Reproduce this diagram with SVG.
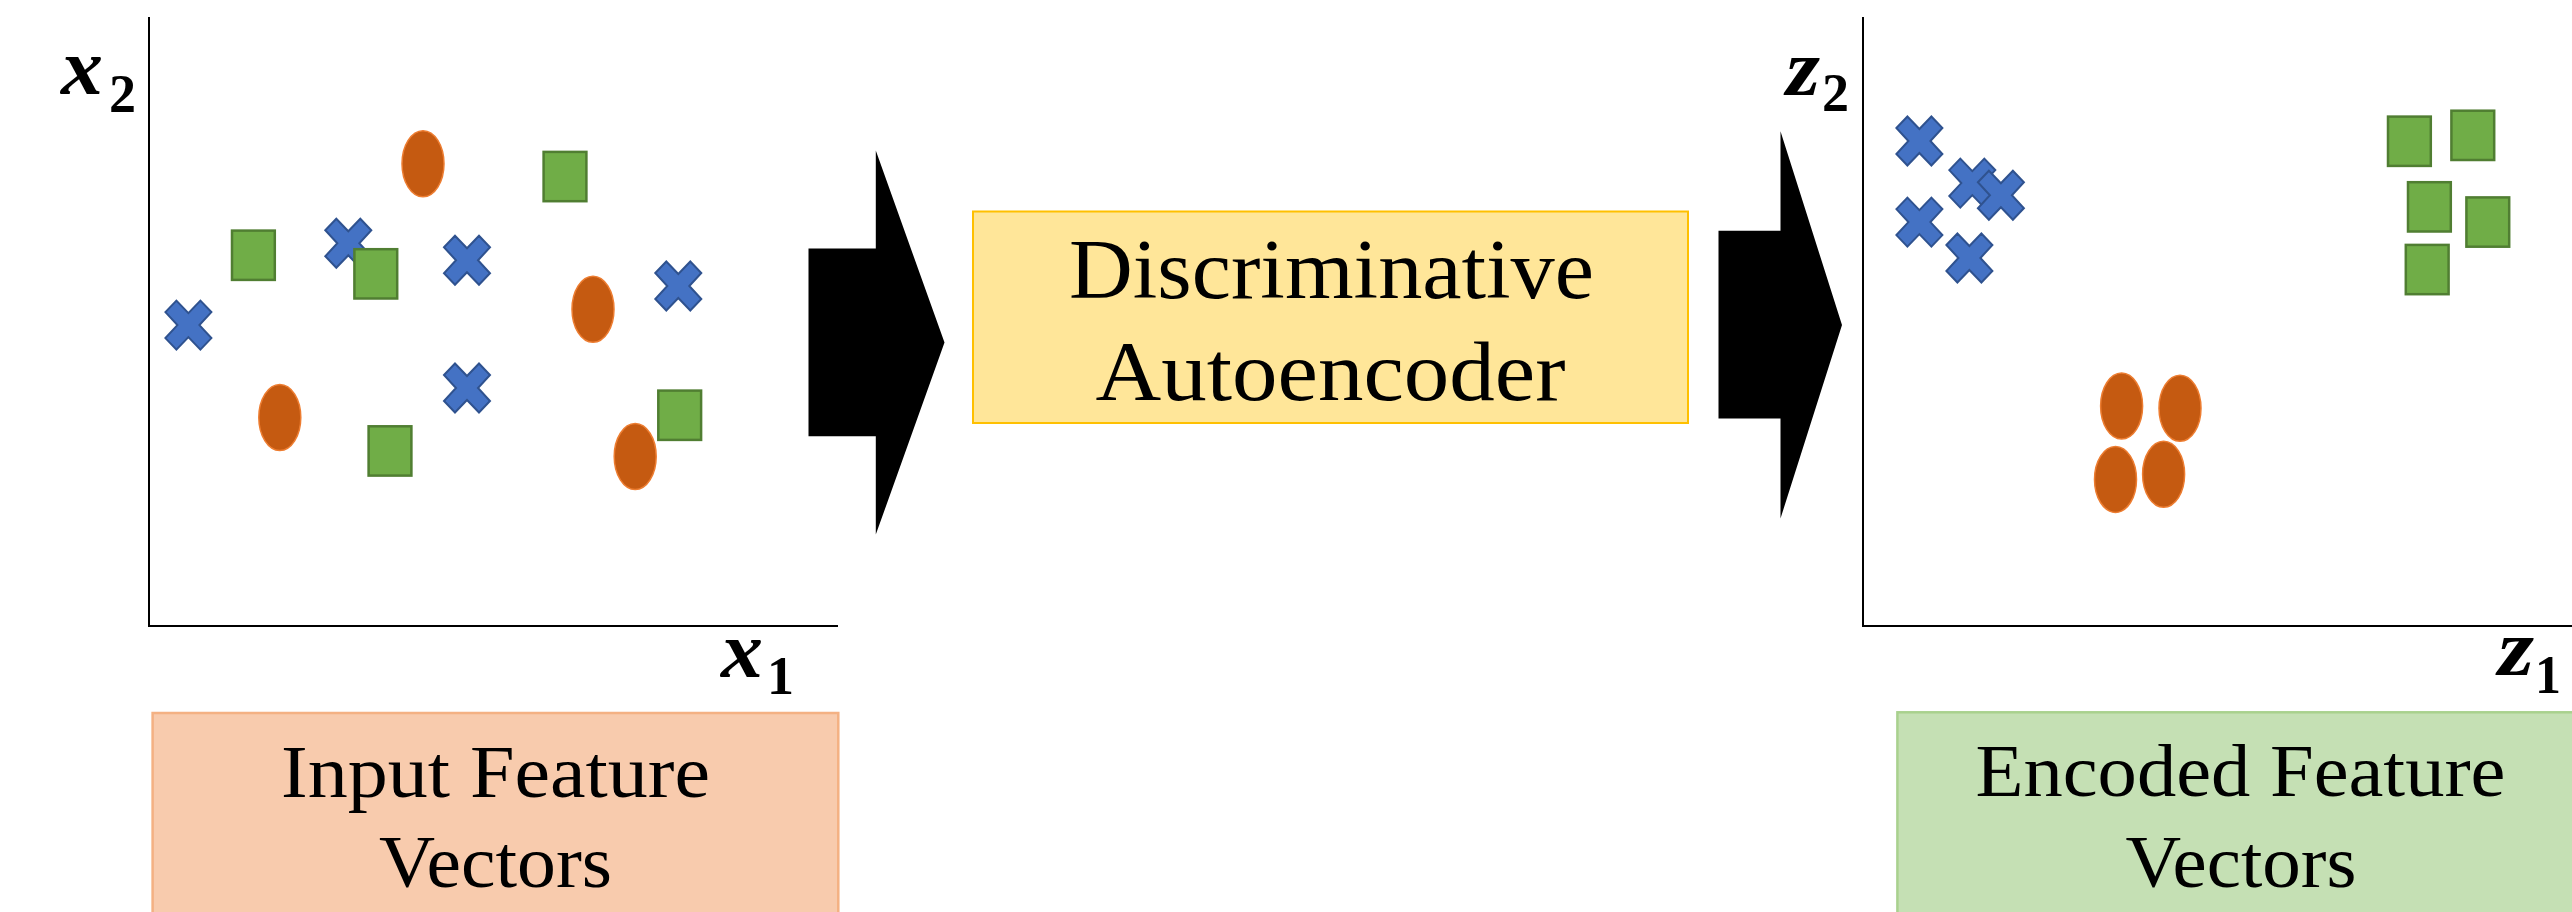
<svg xmlns="http://www.w3.org/2000/svg" xmlns:xlink="http://www.w3.org/1999/xlink" width="2572" height="912" viewBox="0 0 2572 912">
<style>
.axis{stroke:#000;stroke-width:2;fill:none}
.sq{fill:#70AD47;stroke:#507E32;stroke-width:2.5}
.el{fill:#C55A11;stroke:#ED7D31;stroke-width:1.5}
.cr{fill:#4472C4;stroke:#2F528F;stroke-width:2;stroke-linejoin:miter}
.arrow{fill:#000}
.lbl{font-family:"Liberation Serif","Times New Roman",serif;fill:#000}
.big{font-size:84px}
.mid{font-size:74px}
.math{font-family:"Liberation Serif","Times New Roman",serif;font-weight:bold;font-style:italic;font-size:80px}
.sub{font-family:"Liberation Serif","Times New Roman",serif;font-weight:bold;font-size:54px}
</style>
<defs>
<path id="cross" d="M-23,-13 L-12,-24.5 L0,-12 L12,-24.5 L23,-13 L11,0 L23,13 L12,24.5 L0,12 L-12,24.5 L-23,13 L-11,0 Z"/>
</defs>
<rect width="2572" height="912" fill="#fff"/>

<g id="input-plot">
<line class="axis" x1="149" y1="17" x2="149" y2="626"/>
<line class="axis" x1="148" y1="626" x2="838" y2="626"/>
<text class="math" x="61" y="93.5" textLength="42" lengthAdjust="spacingAndGlyphs">x</text><text class="sub" x="109" y="111.5" textLength="27" lengthAdjust="spacingAndGlyphs">2</text>
<text class="math" x="721" y="676.5" textLength="42" lengthAdjust="spacingAndGlyphs">x</text><text class="sub" x="767" y="693.5" textLength="27" lengthAdjust="spacingAndGlyphs">1</text>
<use href="#cross" class="cr" x="348.3" y="243.3"/>
<use href="#cross" class="cr" x="467" y="260.3"/>
<use href="#cross" class="cr" x="188.4" y="325.1"/>
<use href="#cross" class="cr" x="678.3" y="286"/>
<use href="#cross" class="cr" x="467" y="388"/>
<rect class="sq" x="543.6" y="151.9" width="42.8" height="49.3"/>
<rect class="sq" x="232" y="230.6" width="42.8" height="49.3"/>
<rect class="sq" x="354.4" y="249.2" width="42.8" height="49.3"/>
<rect class="sq" x="368.6" y="426.3" width="42.8" height="49.3"/>
<rect class="sq" x="658.3" y="390.6" width="42.8" height="49.3"/>
<ellipse class="el" cx="423" cy="163.7" rx="21" ry="33"/>
<ellipse class="el" cx="593" cy="309.3" rx="21" ry="33"/>
<ellipse class="el" cx="279.8" cy="417.5" rx="21" ry="33"/>
<ellipse class="el" cx="635.2" cy="456.6" rx="21" ry="33"/>
</g>

<g id="encoded-plot">
<line class="axis" x1="1863" y1="17" x2="1863" y2="626"/>
<line class="axis" x1="1862" y1="626" x2="2572" y2="626"/>
<text class="math" x="1786" y="95" textLength="34" lengthAdjust="spacingAndGlyphs">z</text><text class="sub" x="1822" y="110.5" textLength="27" lengthAdjust="spacingAndGlyphs">2</text>
<text class="math" x="2498" y="675" textLength="36" lengthAdjust="spacingAndGlyphs">z</text><text class="sub" x="2535" y="692.5" textLength="26" lengthAdjust="spacingAndGlyphs">1</text>
<use href="#cross" class="cr" x="1919.4" y="141"/>
<use href="#cross" class="cr" x="1972.3" y="183.1"/>
<use href="#cross" class="cr" x="2000.9" y="195.3"/>
<use href="#cross" class="cr" x="1919.4" y="222.1"/>
<use href="#cross" class="cr" x="1969.4" y="258"/>
<rect class="sq" x="2388" y="116.6" width="42.8" height="49.3"/>
<rect class="sq" x="2451.4" y="110.7" width="42.8" height="49.3"/>
<rect class="sq" x="2408" y="182.2" width="42.8" height="49.3"/>
<rect class="sq" x="2466.4" y="197.4" width="42.8" height="49.3"/>
<rect class="sq" x="2405.8" y="244.9" width="42.8" height="49.3"/>
<ellipse class="el" cx="2121.6" cy="406.1" rx="21" ry="33"/>
<ellipse class="el" cx="2180" cy="408.2" rx="21" ry="33"/>
<ellipse class="el" cx="2115.5" cy="479.4" rx="21" ry="33"/>
<ellipse class="el" cx="2163.6" cy="474.3" rx="21" ry="33"/>
</g>

<g id="autoencoder">
<rect x="973" y="211.5" width="715" height="211.5" fill="#FFE699" stroke="#FFC000" stroke-width="2"/>
<text class="lbl big" x="1069" y="297.8" textLength="525" lengthAdjust="spacingAndGlyphs">Discriminative</text>
<text class="lbl big" x="1095.5" y="399.8" textLength="470" lengthAdjust="spacingAndGlyphs">Autoencoder</text>
</g>

<g id="input-label">
<rect x="152.6" y="713" width="685.7" height="210" fill="#F8CBAD" stroke="#F4B183" stroke-width="2.5"/>
<text class="lbl mid" x="281" y="796.7" textLength="429" lengthAdjust="spacingAndGlyphs">Input Feature</text>
<text class="lbl mid" x="379" y="886.7" textLength="233" lengthAdjust="spacingAndGlyphs">Vectors</text>
</g>

<g id="encoded-label">
<rect x="1897.4" y="712.3" width="686" height="210" fill="#C5E0B4" stroke="#A9D18E" stroke-width="2.5"/>
<text class="lbl mid" x="1975.5" y="796" textLength="530" lengthAdjust="spacingAndGlyphs">Encoded Feature</text>
<text class="lbl mid" x="2125.5" y="886.7" textLength="231" lengthAdjust="spacingAndGlyphs">Vectors</text>
</g>

<g id="connectors">
<polygon class="arrow" points="808.5,248.6 875.8,248.6 875.8,150.6 944.5,342.6 875.8,534.6 875.8,436.3 808.5,436.3"/>
<polygon class="arrow" points="1718.5,230.8 1780.5,230.8 1780.5,131.3 1842,325 1780.5,518.5 1780.5,418.5 1718.5,418.5"/>
</g>
</svg>
